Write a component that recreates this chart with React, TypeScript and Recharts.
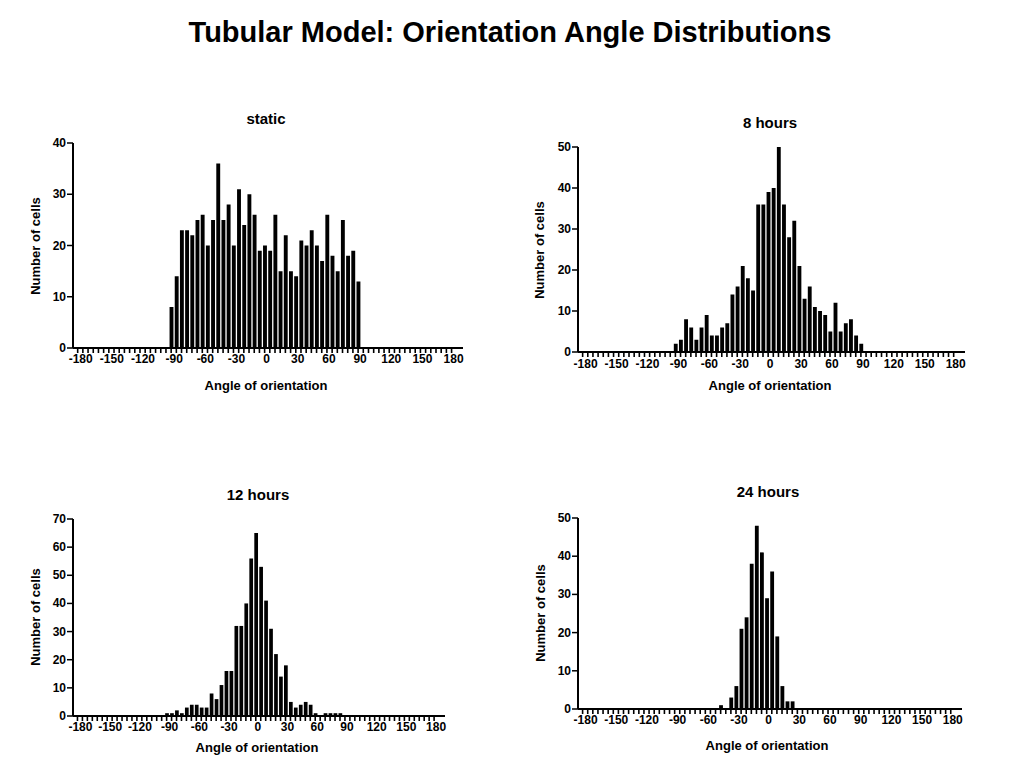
import React from "react";
import { BarChart, Bar, XAxis, YAxis } from "recharts";

// ---- data (counts per 5-degree bin) ----
const staticStart = -90;
const staticCounts = [8, 14, 23, 23, 22, 25, 26, 20, 25, 36, 25, 28, 20, 31, 24, 30, 26, 19, 20, 19, 26, 15, 22, 15, 14, 21, 20, 23, 20, 17, 26, 18, 15, 25, 18, 19, 13];

const hours8Start = -90;
const hours8Counts = [2, 3, 8, 6, 3, 6, 9, 4, 4, 6, 7, 14, 16, 21, 18, 15, 36, 36, 39, 40, 50, 36, 28, 32, 21, 13, 16, 11, 10, 9, 5, 12, 5, 7, 8, 4, 2];

const hours12Start = -90;
const hours12Counts = [1, 1, 2, 1, 3, 4, 4, 3, 3, 8, 6, 11, 16, 16, 32, 32, 40, 56, 65, 53, 41, 31, 22, 14, 18, 5, 3, 4, 5, 4, 1, 0, 1, 1, 1, 1];

const hours24Start = -45;
const hours24Counts = [1, 0, 3, 6, 21, 24, 38, 48, 41, 29, 36, 19, 6, 2, 2];

const binWidth = 5;
const labeledTicks = [-180, -150, -120, -90, -60, -30, 0, 30, 60, 90, 120, 150, 180];
const titleText = "Tubular Model: Orientation Angle Distributions";
const xLabelText = "Angle of orientation";
const yLabelText = "Number of cells";

const buildData = (start: number, counts: number[]) =>
  counts.map((c, i) => ({ x: start + i * binWidth, y: c }));

const combTicks: number[] = [];
for (let v = -180; v <= 180; v += binWidth) combTicks.push(v);

const X_DOMAIN: [number, number] = [-184.5, 191];
const W = 1016;
const H = 781;
const FONT = "'Liberation Sans', Arial, sans-serif";

type PanelProps = {
  data: { x: number; y: number }[];
  yMax: number;
  left: number;
  top: number;
  right: number;
  bottom: number;
  labelDy: number;
};

const Panel = ({ data, yMax, left, top, right, bottom, labelDy }: PanelProps) => {
  const YW = 40;
  const XH = 30;
  const pitch = ((right - left) / (X_DOMAIN[1] - X_DOMAIN[0])) * binWidth;
  const yTicks: number[] = [];
  for (let v = 0; v <= yMax; v += 10) yTicks.push(v);
  const XTick = (props: any) => {
    const { x, y, payload } = props;
    const v = payload.value;
    if (!labeledTicks.includes(v)) return <g />;
    return (
      <text x={x} y={y} dx={v < 0 ? 3 : 2} dy={labelDy} textAnchor="middle" fontSize={12} fontWeight="bold" fontFamily={FONT} fill="#000">
        {v}
      </text>
    );
  };
  const YTick = (props: any) => {
    const { x, y, payload } = props;
    return (
      <text x={x} y={y} dy={4} textAnchor="end" fontSize={12} fontWeight="bold" fontFamily={FONT} fill="#000">
        {payload.value}
      </text>
    );
  };
  return (
    <div style={{ position: "absolute", left: 0, top: 0 }}>
      <BarChart
        width={W}
        height={H}
        data={data}
        margin={{ top, left: left - YW, right: W - right, bottom: H - bottom - XH }}
        barCategoryGap={0}
      >
        <XAxis
          dataKey="x"
          type="number"
          domain={X_DOMAIN}
          allowDataOverflow
          ticks={combTicks}
          interval={0}
          height={XH}
          tickSize={5}
          tickMargin={2}
          axisLine={{ stroke: "#000", strokeWidth: 2 }}
          tickLine={{ stroke: "#000", strokeWidth: 1.6 }}
          tick={<XTick />}
        />
        <YAxis
          type="number"
          domain={[0, yMax]}
          ticks={yTicks}
          interval={0}
          width={YW}
          tickSize={6}
          tickMargin={1}
          axisLine={{ stroke: "#000", strokeWidth: 2 }}
          tickLine={{ stroke: "#000", strokeWidth: 1.5 }}
          tick={<YTick />}
        />
        <Bar dataKey="y" fill="#000" barSize={pitch * 0.75} isAnimationActive={false} />
      </BarChart>
    </div>
  );
};

const T = ({ x, y, size, children, rotate }: { x: number; y: number; size: number; children: React.ReactNode; rotate?: boolean }) => (
  <text
    x={x}
    y={y}
    textAnchor="middle"
    dominantBaseline="central"
    fontSize={size}
    fontWeight="bold"
    fontFamily={FONT}
    fill="#000"
    transform={rotate ? `rotate(-90 ${x} ${y})` : undefined}
  >
    {children}
  </text>
);

export default function App() {
  return (
    <div style={{ position: "absolute", left: 0, top: 0, width: W, height: H, background: "#fff", overflow: "hidden" }}>
      <Panel data={buildData(staticStart, staticCounts)} yMax={40} left={73} top={143} right={463} bottom={348} labelDy={8} />
      <Panel data={buildData(hours8Start, hours8Counts)} yMax={50} left={578} top={147} right={965} bottom={352} labelDy={9} />
      <Panel data={buildData(hours12Start, hours12Counts)} yMax={70} left={73} top={519} right={445} bottom={716} labelDy={8} />
      <Panel data={buildData(hours24Start, hours24Counts)} yMax={50} left={578} top={518} right={962} bottom={709} labelDy={8} />
      <svg width={W} height={H} style={{ position: "absolute", left: 0, top: 0, pointerEvents: "none" }}>
        <T x={510} y={32} size={29}>{titleText}</T>
        <T x={266} y={118} size={15}>static</T>
        <T x={770} y={122} size={15}>8 hours</T>
        <T x={258} y={494} size={15}>12 hours</T>
        <T x={768} y={491} size={15}>24 hours</T>
        <T x={266} y={385} size={13}>{xLabelText}</T>
        <T x={770} y={385} size={13}>{xLabelText}</T>
        <T x={257} y={747} size={13}>{xLabelText}</T>
        <T x={767} y={745} size={13}>{xLabelText}</T>
        <T x={35} y={246} size={13} rotate>{yLabelText}</T>
        <T x={539} y={250} size={13} rotate>{yLabelText}</T>
        <T x={35} y={617} size={13} rotate>{yLabelText}</T>
        <T x={540} y={613} size={13} rotate>{yLabelText}</T>
      </svg>
    </div>
  );
}
